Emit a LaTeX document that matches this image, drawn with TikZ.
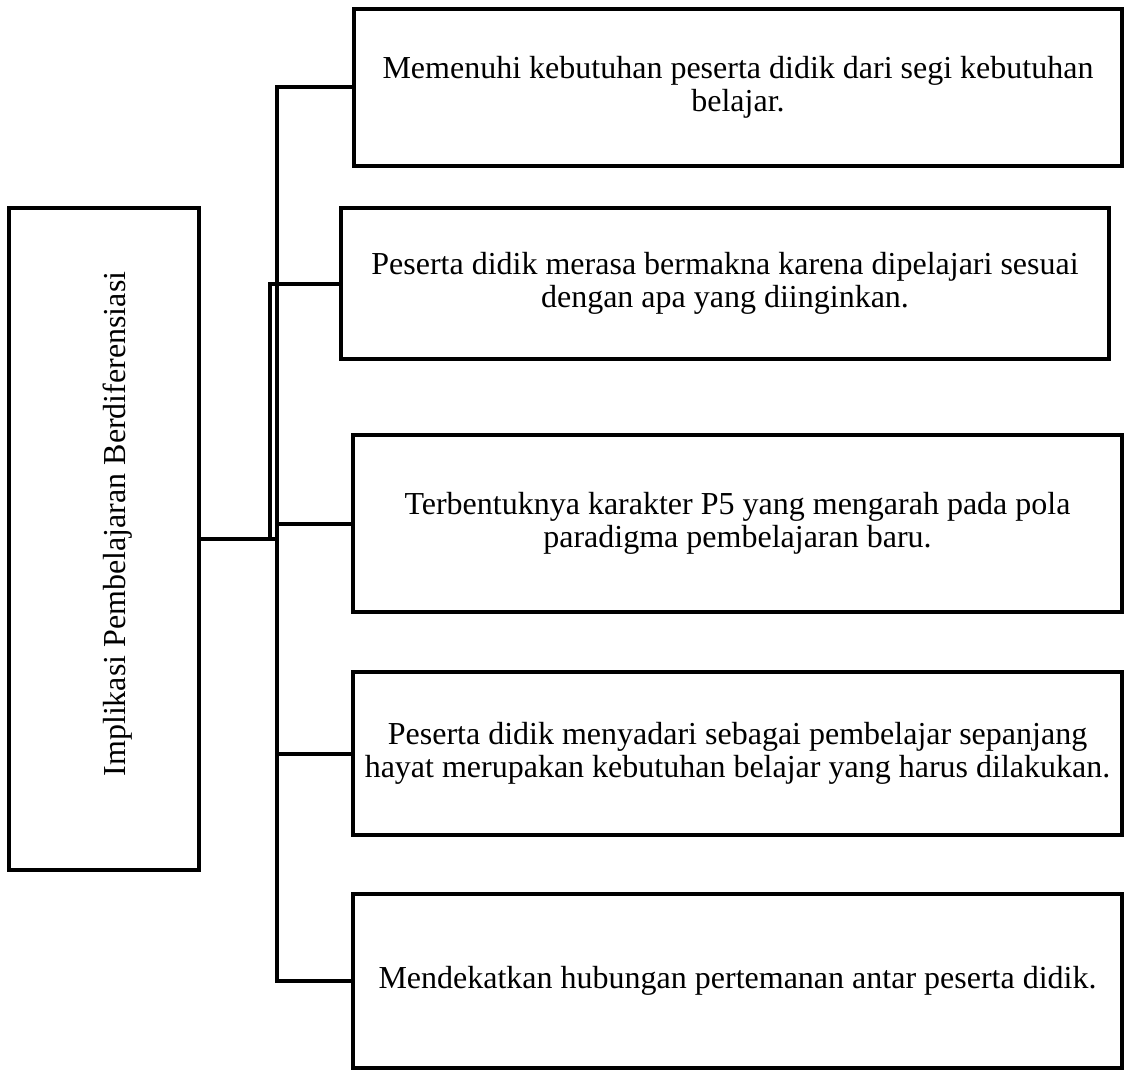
\documentclass[tikz,border=0pt]{standalone}
\usepackage{fontspec}
\setmainfont{Liberation Serif}
\usepackage{graphicx}
\begin{document}
\begin{tikzpicture}[x=1pt,y=-1pt,
  box/.style={draw,fill=white,line width=4pt,rectangle,align=center,inner sep=0pt,
    font=\fontsize{32}{33}\selectfont},
  conn/.style={line width=4pt}]
\useasboundingbox (0,0) rectangle (1126,1070);
\node[box,minimum width=190pt,minimum height=662pt] (main) at (104,539)
  {\hspace*{28pt}\raisebox{30pt}{\rotatebox{90}{Implikasi Pembelajaran Berdiferensiasi}}};
\node[box,minimum width=768pt,minimum height=157pt] (b1) at (738,87.5)
  {Memenuhi kebutuhan peserta didik dari segi kebutuhan\\belajar.};
\node[box,minimum width=768pt,minimum height=151pt] (b2) at (725,283.5)
  {Peserta didik merasa bermakna karena dipelajari sesuai\\dengan apa yang diinginkan.};
\node[box,minimum width=769pt,minimum height=177pt] (b3) at (737.5,523.5)
  {Terbentuknya karakter P5 yang mengarah pada pola\\paradigma pembelajaran baru.};
\node[box,minimum width=769pt,minimum height=163pt] (b4) at (737.5,753.5)
  {Peserta didik menyadari sebagai pembelajar sepanjang\\hayat merupakan kebutuhan belajar yang harus dilakukan.};
\node[box,minimum width=769pt,minimum height=174pt] (b5) at (737.5,981)
  {Mendekatkan hubungan pertemanan antar peserta didik.};
\coordinate (sA) at (277,0);
\coordinate (sB) at (270,0);
\draw[conn] (b1.west) -- (b1.west -| sA) -- (b5.west -| sA) -- (b5.west);
\draw[conn] (b3.west) -- (b3.west -| sA);
\draw[conn] (b4.west) -- (b4.west -| sA);
\draw[conn] (main.east) -- (main.east -| sA);
\draw[conn] (b2.west) -- (b2.west -| sB) -- (main.east -| sB);
\end{tikzpicture}
\end{document}
